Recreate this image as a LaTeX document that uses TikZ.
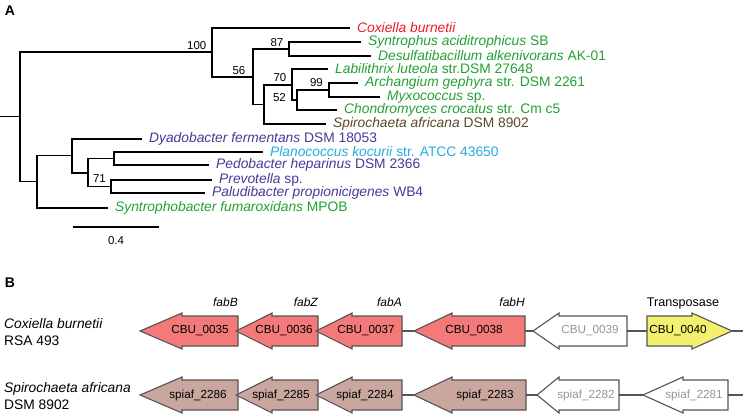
\documentclass[tikz,border=0pt]{standalone}
\usepackage{fontspec}
\setmainfont{Liberation Sans}
\usetikzlibrary{positioning}

\definecolor{coxRed}{RGB}{237,28,36}
\definecolor{proteoGreen}{RGB}{34,160,52}
\definecolor{spiroBrown}{RGB}{92,72,40}
\definecolor{bactPurple}{RGB}{72,56,150}
\definecolor{planoCyan}{RGB}{38,170,225}
\definecolor{fabRed}{RGB}{244,122,122}
\definecolor{transYellow}{RGB}{242,240,110}
\definecolor{spiaRose}{RGB}{201,166,158}
\definecolor{geneEdge}{RGB}{85,85,85}
\definecolor{geneGrey}{RGB}{150,150,150}

\begin{document}
\begin{tikzpicture}
[x=1pt,y=-1pt,
  branchDecorate/.style={-,line width=1.3pt,black},
  leafDecorate/.style={inner sep=0pt,font=\fontsize{13.8}{16}\selectfont},
  bootDecorate/.style={inner sep=0pt,anchor=south east,font=\fontsize{11.5}{13}\selectfont},
  geneDecorate/.style={draw=geneEdge,line width=1.1pt,line join=miter},
  geneText/.style={inner sep=0pt,font=\fontsize{11.7}{13}\selectfont},
  geneName/.style={inner sep=0pt,anchor=base east,font=\fontsize{12}{14}\selectfont\itshape},
  backboneDecorate/.style={-,draw=geneEdge,line width=1.1pt},
  rowDecorate/.style={inner sep=0pt,anchor=west,align=left,font=\fontsize{13.8}{17}\selectfont},
  panelDecorate/.style={inner sep=0pt,font=\fontsize{14}{16}\selectfont\bfseries}]
\useasboundingbox (0,0) rectangle (743,418);

%% panel letters
\node[panelDecorate] (panelA) at (10,11) {A};
\node[panelDecorate] (panelB) at (10,283) {B};

%% inner nodes of the tree
\foreach \nodename/\x/\y in {
  root/20/116.5, n100/212/52, n56/253/77, n87/289/49,
  nX/264/104.5, n70/292/85, n52/297/100, n99/329/90,
  nB/37/181.5, nC/72/155.5, nD/88/173, nE/114/158.5, n71/111/186.5}
{
  \coordinate (\nodename) at (\x,\y);
}
\coordinate (base) at (0,116.5);

%% leaves
\foreach \nodename/\x/\y in {
  cox/350/28, syn/361/42, des/371/56, lab/328/69,
  arc/358/83, myx/380/97, cho/337/110, spi/326/124,
  dya/142/139, pla/263/152, ped/209/165, pre/212/180,
  pal/205/193, sfu/108/208}
{
  \coordinate (\nodename) at (\x,\y);
}

%% branches
\draw[branchDecorate] (base) -- (root);
\foreach \startnode/\endnode in {
  root/n100, root/nB, n100/cox, n100/n56, n56/n87, n56/nX,
  n87/syn, n87/des, nX/n70, nX/spi, n70/lab, n70/n52,
  n52/n99, n52/cho, n99/arc, n99/myx, nB/nC, nB/sfu,
  nC/dya, nC/nD, nD/nE, nD/n71, nE/pla, nE/ped, n71/pre, n71/pal}
{
  \draw[branchDecorate] (\startnode) |- (\endnode);
}

%% species names
\foreach \nodename/\col/\genus/\strain in {
  cox/coxRed/{Coxiella burnetii}/{},
  syn/proteoGreen/{Syntrophus aciditrophicus}/{SB},
  des/proteoGreen/{Desulfatibacillum alkenivorans}/{AK-01},
  lab/proteoGreen/{Labilithrix luteola}/{str.DSM 27648},
  arc/proteoGreen/{Archangium gephyra}/{str. DSM 2261},
  myx/proteoGreen/{Myxococcus}/{sp.},
  cho/proteoGreen/{Chondromyces crocatus}/{str. Cm c5},
  spi/spiroBrown/{Spirochaeta africana}/{DSM 8902},
  dya/bactPurple/{Dyadobacter fermentans}/{DSM 18053},
  pla/planoCyan/{Planococcus kocurii}/{str. ATCC 43650},
  ped/bactPurple/{Pedobacter heparinus}/{DSM 2366},
  pre/bactPurple/{Prevotella}/{sp.},
  pal/bactPurple/{Paludibacter propionicigenes}/{WB4},
  sfu/proteoGreen/{Syntrophobacter fumaroxidans}/{MPOB}}
{
  \node[leafDecorate,text=\col,right=7pt of \nodename] (\nodename-name) {\textit{\genus} \strain};
}

%% bootstrap values
\foreach \nodename/\val/\dx/\dy in {
  n100/100/-5.5/2, n87/87/-5.5/2, n56/56/-7.5/2, n70/70/-5.5/3,
  n52/52/-11/-2, n99/99/-6/3.5, n71/71/-5/3.5}
{
  \node[bootDecorate,xshift=\dx pt,yshift=\dy pt] (\nodename-boot) at (\nodename) {\val};
}

%% scale bar
\coordinate (scaleL) at (73,227);
\coordinate (scaleR) at (159,227);
\draw[branchDecorate] (scaleL) -- (scaleR);
\node[bootDecorate,anchor=center] (scaleText) at (116,241) {0.4};

%% gene clusters
\node[rowDecorate] (coxRow) at (4,332) {\textit{Coxiella burnetii}\\RSA 493};
\node[rowDecorate] (spiRow) at (4,396.5) {\textit{Spirochaeta africana}\\DSM 8902};
\coordinate (coxRow-end) at (743,331);
\coordinate (spiRow-end) at (743,395);

\foreach \nodename/\tip/\head/\tail/\y/\fillc/\txtc/\txtx/\label in {
  cbu35/140/42/238/331/fabRed/black/200/CBU\_0035,
  cbu36/236/36/318/331/fabRed/black/284/CBU\_0036,
  cbu37/316/36/402/331/fabRed/black/366/CBU\_0037,
  cbu38/414/38/525/331/fabRed/black/474/CBU\_0038,
  cbu39/533/26/627/331/white/geneGrey/590/CBU\_0039,
  sp86/140/42/238/395/spiaRose/black/198/spiaf\_2286,
  sp85/236/36/318/395/spiaRose/black/281/spiaf\_2285,
  sp84/316/36/402/395/spiaRose/black/365/spiaf\_2284,
  sp83/414/38/526/395/spiaRose/black/485/spiaf\_2283,
  sp82/537/22/619/395/white/geneGrey/586/spiaf\_2282,
  sp81/643/40/728/395/white/geneGrey/694/spiaf\_2281}
{
  \draw[geneDecorate,fill=\fillc] (\tip,\y) -- ++(\head,-18) -- ++(0,3) -- (\tail,\y-15)
    -- (\tail,\y+15) -- (\tip+\head,\y+15) -- ++(0,3) -- cycle;
  \coordinate (\nodename-tip) at (\tip,\y);
  \coordinate (\nodename-end) at (\tail,\y);
  \node[geneText,text=\txtc] (\nodename) at (\txtx,\y) {\label};
}
%% the transposase points the other way
\draw[geneDecorate,fill=transYellow] (647,316) -- (692,316) -- (692,313) -- (732,331)
  -- (692,349) -- (692,346) -- (647,346) -- cycle;
\coordinate (cbu40-end) at (647,331);
\coordinate (cbu40-tip) at (732,331);
\node[geneText] (cbu40) at (678,331) {CBU\_0040};

%% backbone between genes
\foreach \startnode/\endnode in {
  cbu37-end/cbu38-tip, cbu38-end/cbu39-tip, cbu39-end/cbu40-end, cbu40-tip/coxRow-end,
  sp84-end/sp83-tip, sp83-end/sp82-tip, sp82-end/sp81-tip, sp81-end/spiRow-end}
{
  \draw[backboneDecorate] (\startnode) -- (\endnode);
}

%% gene names
\foreach \nodename/\x/\label in {fabB/238/fabB, fabZ/318/fabZ, fabA/402/fabA, fabH/525/fabH}
{
  \node[geneName] (\nodename) at (\x,306) {\label};
}
\node[geneName,anchor=base,font=\fontsize{12.6}{14}\selectfont] (transp) at (683,306) {Transposase};
\end{tikzpicture}
\end{document}
